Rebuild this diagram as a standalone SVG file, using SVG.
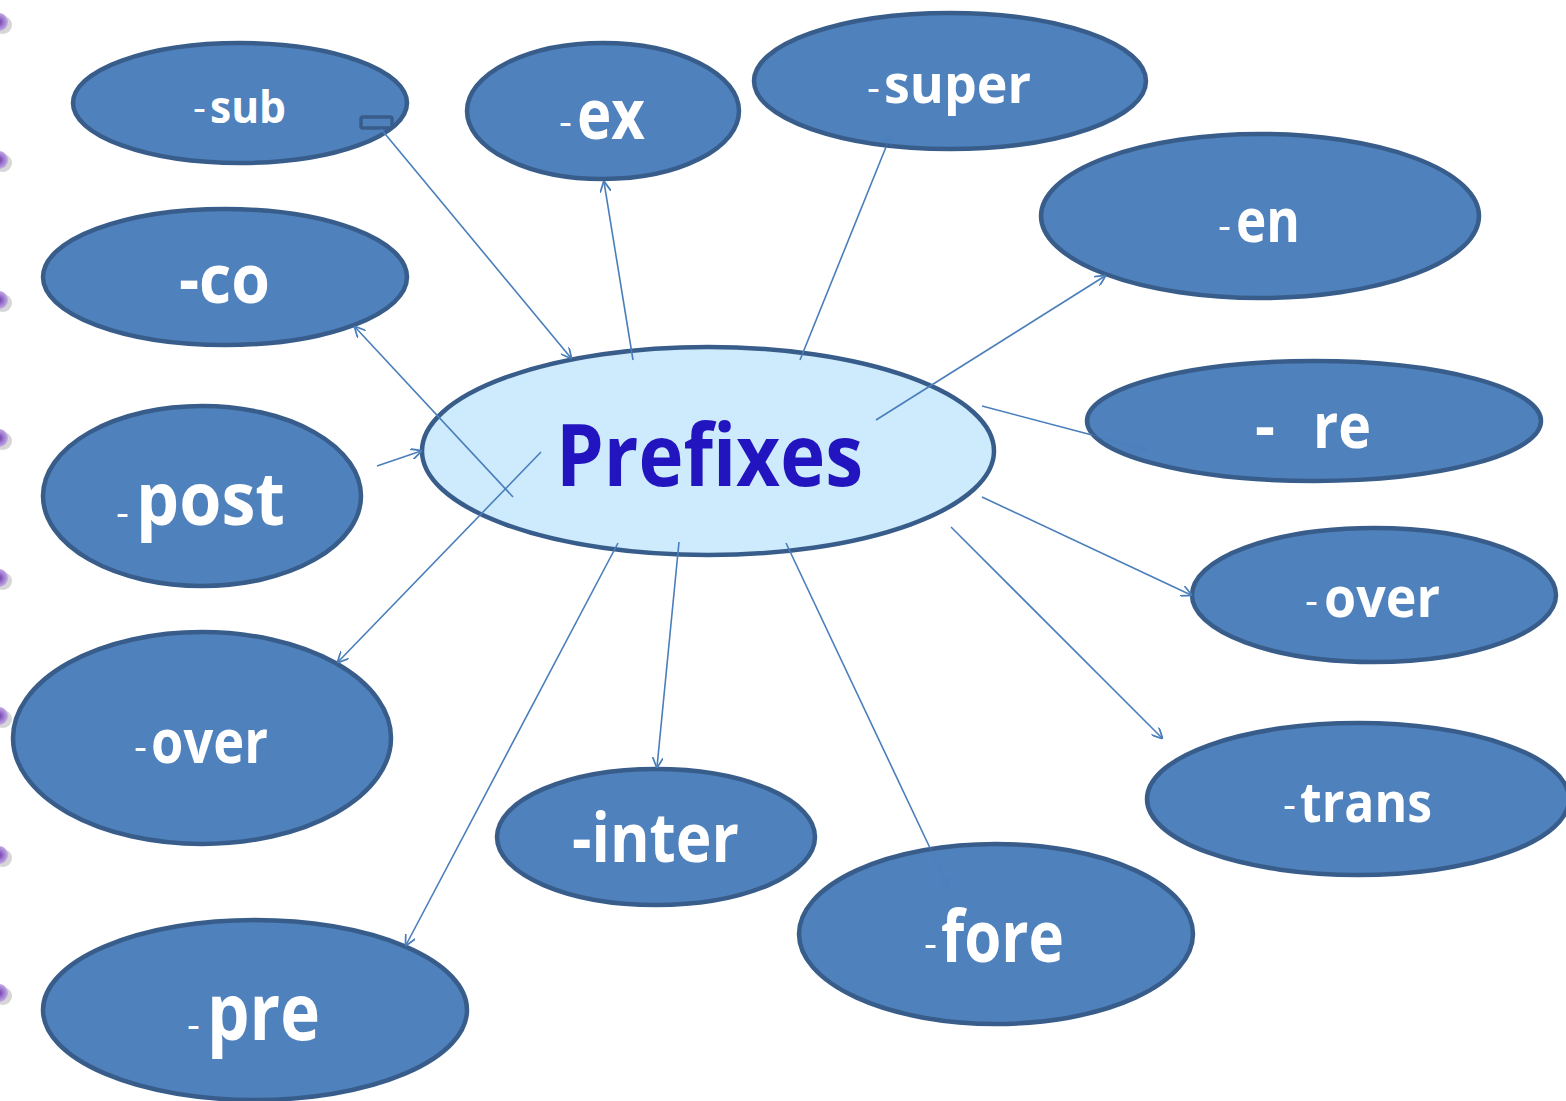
<svg xmlns="http://www.w3.org/2000/svg" width="1566" height="1101" viewBox="0 0 1566 1101">
<defs>
<radialGradient id="dot" cx="0.5" cy="0.5" r="0.55">
<stop offset="0" stop-color="#6b3aa8"/>
<stop offset="0.45" stop-color="#9a74cc"/>
<stop offset="1" stop-color="#cdb6ea"/>
</radialGradient>
<marker id="arr" viewBox="0 0 10 10" refX="9" refY="5" markerWidth="11" markerHeight="11" markerUnits="userSpaceOnUse" orient="auto">
<path d="M0,0 L10,5 L0,10" fill="none" stroke="#4a7ebb" stroke-width="1.6"/>
</marker>
</defs>
<style>
.node{fill:#4f81bd;stroke:#385d8a;stroke-width:4.5}
.center{fill:#cdebfc;stroke:#385d8a;stroke-width:4.5}
.lbl{font-family:"Open Sans","Noto Sans","Liberation Sans",sans-serif;font-weight:bold;fill:#ffffff}
.dash{font-family:"Open Sans","Noto Sans","Liberation Sans",sans-serif;font-weight:normal;fill:#ffffff;font-size:40px}
.title{font-family:"Open Sans","Noto Sans","Liberation Sans",sans-serif;font-weight:bold;fill:#2214bf}
.con{stroke:#4a7ebb;stroke-width:1.6;fill:none}
.faint{stroke:#4a7ebb;stroke-width:1.6;fill:none;opacity:0.35}
.shadow{fill:#c4c4c4;opacity:0.7}
</style>
<rect width="1566" height="1101" fill="#ffffff"/>
<g id="bullets">
<circle class="shadow" cx="3" cy="25" r="9"/><circle cx="-1" cy="22" r="9" fill="url(#dot)"/>
<circle class="shadow" cx="3" cy="163" r="9"/><circle cx="-1" cy="160" r="9" fill="url(#dot)"/>
<circle class="shadow" cx="3" cy="303" r="9"/><circle cx="-1" cy="300" r="9" fill="url(#dot)"/>
<circle class="shadow" cx="3" cy="441" r="9"/><circle cx="-1" cy="438" r="9" fill="url(#dot)"/>
<circle class="shadow" cx="3" cy="581" r="9"/><circle cx="-1" cy="578" r="9" fill="url(#dot)"/>
<circle class="shadow" cx="3" cy="719" r="9"/><circle cx="-1" cy="716" r="9" fill="url(#dot)"/>
<circle class="shadow" cx="3" cy="858" r="9"/><circle cx="-1" cy="855" r="9" fill="url(#dot)"/>
<circle class="shadow" cx="3" cy="996" r="9"/><circle cx="-1" cy="993" r="9" fill="url(#dot)"/>
</g>
<g id="node-sub">
<ellipse class="node" cx="240" cy="103" rx="167" ry="60"/>
<text class="dash" x="193" y="121">-</text>
<text class="lbl" x="210" y="123" font-size="44" textLength="76" lengthAdjust="spacingAndGlyphs">sub</text>
<rect x="361" y="117" width="31" height="11" rx="2" fill="#4f81bd" stroke="#385d8a" stroke-width="3.5"/>
</g>
<g id="node-ex">
<ellipse class="node" cx="603" cy="111" rx="136" ry="68"/>
<text class="dash" x="559" y="135">-</text>
<text class="lbl" x="577" y="139" font-size="70" textLength="68" lengthAdjust="spacingAndGlyphs">ex</text>
</g>
<g id="node-super">
<ellipse class="node" cx="950" cy="81" rx="196" ry="68"/>
<text class="dash" x="867" y="101">-</text>
<text class="lbl" x="884" y="103" font-size="54" textLength="147" lengthAdjust="spacingAndGlyphs">super</text>
</g>
<g id="node-en">
<ellipse class="node" cx="1260" cy="216" rx="219" ry="82"/>
<text class="dash" x="1218" y="239">-</text>
<text class="lbl" x="1236" y="242" font-size="60" textLength="64" lengthAdjust="spacingAndGlyphs">en</text>
</g>
<g id="node-re">
<ellipse class="node" cx="1314" cy="421" rx="227" ry="60"/>
<text class="lbl" x="1255" y="448" font-size="62">-</text>
<text class="lbl" x="1313" y="448" font-size="62" textLength="58" lengthAdjust="spacingAndGlyphs">re</text>
</g>
<g id="node-over-right">
<ellipse class="node" cx="1374" cy="595" rx="182" ry="67"/>
<text class="dash" x="1305" y="614">-</text>
<text class="lbl" x="1324" y="617" font-size="56" textLength="116" lengthAdjust="spacingAndGlyphs">over</text>
</g>
<g id="node-trans">
<ellipse class="node" cx="1358" cy="799" rx="211" ry="76"/>
<text class="dash" x="1283" y="818">-</text>
<text class="lbl" x="1300" y="822" font-size="56" textLength="132" lengthAdjust="spacingAndGlyphs">trans</text>
</g>
<g id="node-fore">
<ellipse class="node" cx="996" cy="934" rx="197" ry="90"/>
<text class="dash" x="924" y="957">-</text>
<text class="lbl" x="941" y="962" font-size="72" textLength="123" lengthAdjust="spacingAndGlyphs">fore</text>
</g>
<g id="node-inter">
<ellipse class="node" cx="656" cy="837" rx="159" ry="68"/>
<text class="lbl" x="572" y="862" font-size="68" textLength="167" lengthAdjust="spacingAndGlyphs">-inter</text>
</g>
<g id="node-pre">
<ellipse class="node" cx="255" cy="1010" rx="212" ry="90"/>
<text class="dash" x="187" y="1038">-</text>
<text class="lbl" x="207" y="1040" font-size="78" textLength="113" lengthAdjust="spacingAndGlyphs">pre</text>
</g>
<g id="node-over-left">
<ellipse class="node" cx="202" cy="738" rx="189" ry="106"/>
<text class="dash" x="134" y="760">-</text>
<text class="lbl" x="151" y="763" font-size="60" textLength="117" lengthAdjust="spacingAndGlyphs">over</text>
</g>
<g id="node-post">
<ellipse class="node" cx="202" cy="496" rx="159" ry="90"/>
<text class="dash" x="116" y="526">-</text>
<text class="lbl" x="136" y="525" font-size="74" textLength="149" lengthAdjust="spacingAndGlyphs">post</text>
</g>
<g id="node-co">
<ellipse class="node" cx="225" cy="277" rx="182" ry="68"/>
<text class="lbl" x="179" y="303" font-size="68" textLength="91" lengthAdjust="spacingAndGlyphs">-co</text>
</g>
<g id="node-prefixes">
<ellipse class="center" cx="708" cy="451" rx="286" ry="104"/>
<text class="title" x="556" y="486" font-size="86" textLength="307" lengthAdjust="spacingAndGlyphs">Prefixes</text>
</g>
<g id="connectors">
<line class="con" x1="381" y1="129" x2="571" y2="358" marker-end="url(#arr)"/>
<line class="con" x1="633" y1="360" x2="604" y2="182" marker-end="url(#arr)"/>
<line class="con" x1="800" y1="360" x2="886" y2="147"/>
<line class="faint" x1="886" y1="147" x2="890" y2="136" marker-end="url(#arr)"/>
<line class="con" x1="876" y1="420" x2="1105" y2="276" marker-end="url(#arr)"/>
<line class="con" x1="982" y1="406" x2="1092" y2="435"/>
<line class="faint" x1="1092" y1="435" x2="1146" y2="450" marker-end="url(#arr)"/>
<line class="con" x1="982" y1="497" x2="1191" y2="595" marker-end="url(#arr)"/>
<line class="con" x1="951" y1="527" x2="1162" y2="738" marker-end="url(#arr)"/>
<line class="con" x1="786" y1="543" x2="930" y2="848"/>
<line class="faint" x1="930" y1="848" x2="948" y2="887" marker-end="url(#arr)"/>
<line class="con" x1="679" y1="542" x2="657" y2="767" marker-end="url(#arr)"/>
<line class="con" x1="618" y1="543" x2="406" y2="945" marker-end="url(#arr)"/>
<line class="con" x1="541" y1="452" x2="338" y2="662" marker-end="url(#arr)"/>
<line class="con" x1="513" y1="497" x2="355" y2="327" marker-end="url(#arr)"/>
<line class="con" x1="377" y1="466" x2="421" y2="451" marker-end="url(#arr)"/>
</g>
</svg>
